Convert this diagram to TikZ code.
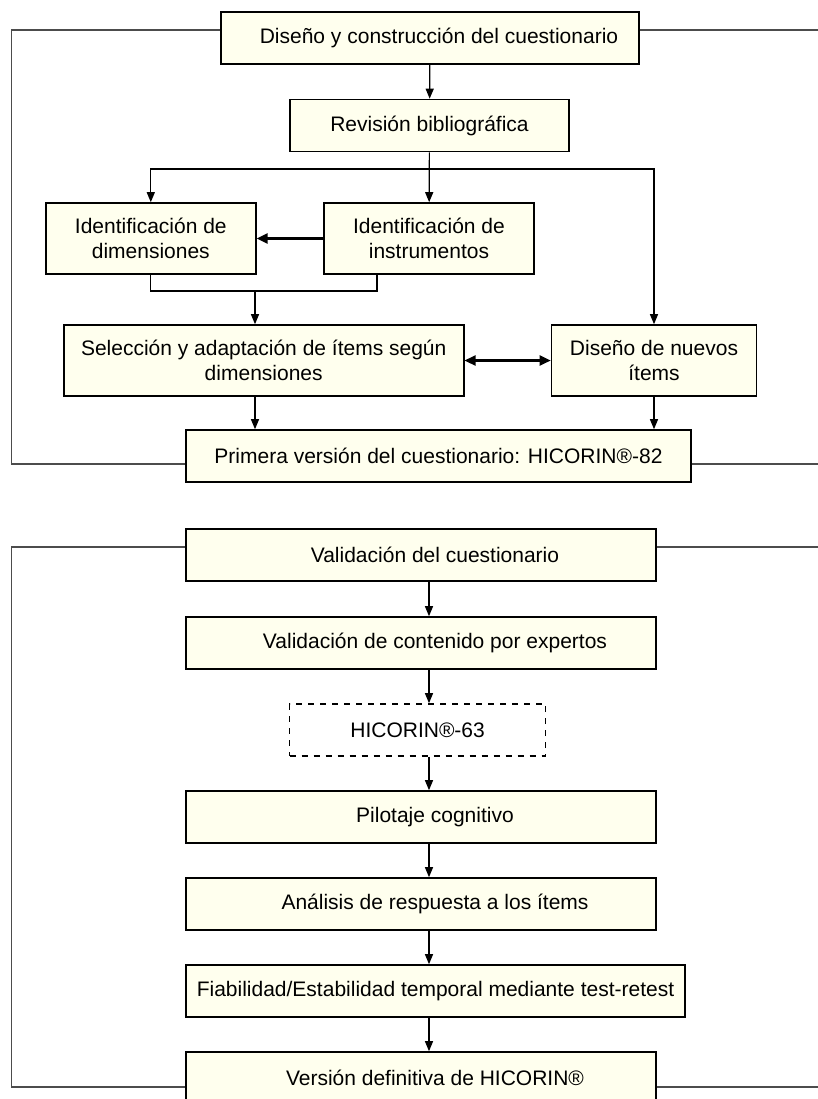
\documentclass[tikz,border=0pt]{standalone}
\usepackage{fontspec}
\setmainfont{Liberation Sans}
\usepackage{tikz}
\usetikzlibrary{arrows.meta,positioning}
\definecolor{boxfill}{RGB}{255,255,238}

\begin{document}
\fontsize{10.5}{12.8}\selectfont
\begin{tikzpicture}[x=0.5pt,y=-0.5pt,>={Triangle[length=5pt,width=4pt]},
    semithick,box/.style={rectangle,draw,thick,fill=boxfill,inner sep=2pt,
    minimum height=26pt,align=center},
    tallbox/.style={box,minimum height=35.5pt},
    dashbox/.style={rectangle,draw,thick,dashed,minimum height=26pt,
    minimum width=128pt},
    offbox/.style={box,minimum width=235pt,execute at begin node=\hspace*{14pt}},
    harrow/.style={line width=1.1pt,>={Triangle[length=5.5pt,width=5pt]}},
    frame/.style={draw=black!70,thick}]

  \useasboundingbox (0,0) rectangle (818,1099);
  \clip (0,0) rectangle (818,1099);

  % Diseno del cuestionario
  \node[box,minimum width=209pt,execute at begin node=\hspace*{9pt}] (diseno) at (430,38) {Diseño y construcción del cuestionario};
  \node[box,minimum width=139.5pt] (revision) at (429.5,125.5) {Revisión bibliográfica};
  \node[tallbox,minimum width=105pt] (dimens) at (150.8,238.5) {Identificación de\\dimensiones};
  \node[tallbox,minimum width=105pt] (instr)  at (429,238.5)   {Identificación de\\instrumentos};
  \node[tallbox,minimum width=200pt] (selecc) at (263.7,360.5) {Selección y adaptación de ítems según\\dimensiones};
  \node[tallbox,minimum width=102.5pt] (nuevos) at (654,360.5) {Diseño de nuevos\\ítems};
  \node[box,minimum width=252.5pt] (primera)  at (438.5,456) {Primera versión del cuestionario: HICORIN®-82};

  \coordinate (split) at (429,169);
  \coordinate (merge) at (255,291);

  \draw[->] (diseno) -- (revision);
  \draw[->] (revision) -- (instr);
  \draw[->] (split) -| (dimens);
  \draw[->] (split) -| (nuevos);
  \draw[->,harrow] (instr) -- (dimens);
  \draw (dimens) |- (merge) -| ([xshift=-26pt]instr.south);
  \draw[->] (merge) -- (merge |- selecc.north);
  \draw[<->,harrow] (selecc) -- (nuevos);
  \draw[->] (merge |- selecc.south) -- (merge |- primera.north);
  \draw[->] (nuevos) -- (nuevos |- primera.north);

  % Frame 1
  \draw[frame] (diseno.west |- 0,30) -| (11.5,464) -- (primera.west |- 0,464);
  \draw[frame] (diseno.east |- 0,30) -- (830,30);
  \draw[frame] (primera.east |- 0,464) -- (830,464);

  % Validacion del cuestionario
  \node[offbox]                    (valid)  at (421,555)  {Validación del cuestionario};
  \node[offbox]                    (expert) at (421,643)  {Validación de contenido por expertos};
  \node[dashbox]                   (hic63)  at (417.6,730) {HICORIN®-63};
  \node[offbox]                    (pilot)  at (421,817)  {Pilotaje cognitivo};
  \node[offbox]                    (resp)   at (421,904)  {Análisis de respuesta a los ítems};
  \node[box,minimum width=249.5pt] (fiab)   at (435.5,991) {Fiabilidad/Estabilidad temporal mediante test-retest};
  \node[offbox]                    (final)  at (421,1078) {Versión definitiva de HICORIN®};

  \coordinate (axis) at (429,0);

  \draw[->] (valid.south -| axis)  -- (expert.north -| axis);
  \draw[->] (expert.south -| axis) -- (hic63.north -| axis);
  \draw[->] (hic63.south -| axis)  -- (pilot.north -| axis);
  \draw[->] (pilot.south -| axis)  -- (resp.north -| axis);
  \draw[->] (resp.south -| axis)   -- (fiab.north -| axis);
  \draw[->] (fiab.south -| axis)   -- (final.north -| axis);

  % Frame 2
  \draw[frame] (valid.west |- 0,547) -| (11.5,1087) -- (final.west |- 0,1087);
  \draw[frame] (valid.east |- 0,547) -- (830,547);
  \draw[frame] (final.east |- 0,1087) -- (830,1087);

\end{tikzpicture}
\end{document}
